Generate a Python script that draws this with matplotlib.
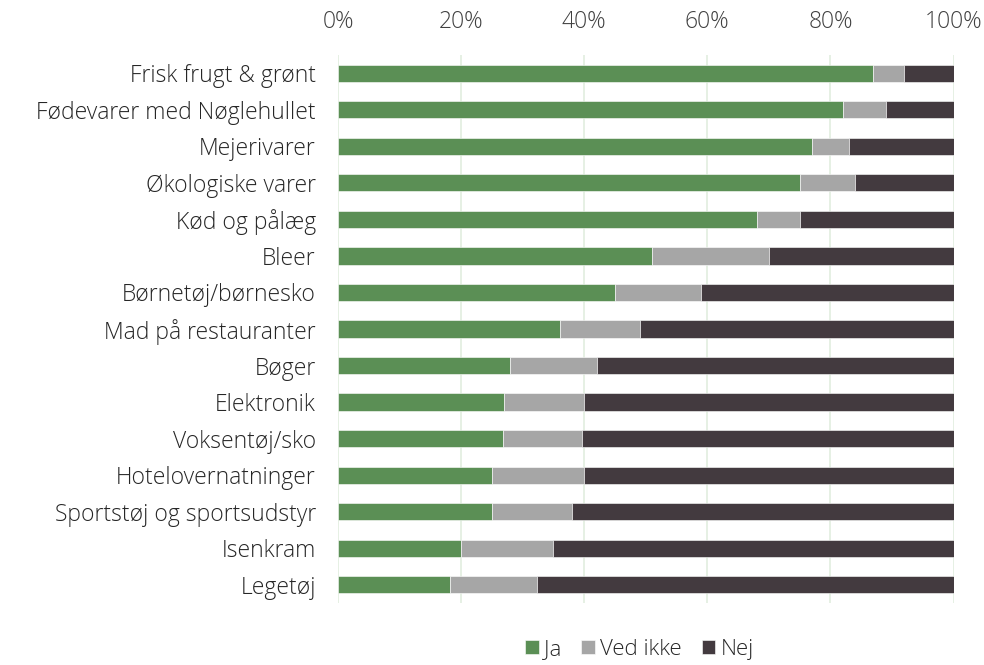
import matplotlib.pyplot as plt
import numpy as np

plt.rcParams['font.family'] = ['Open Sans', 'DejaVu Sans']
plt.rcParams['font.weight'] = 'light'

categories = ['Frisk frugt & grønt', 'Fødevarer med Nøglehullet', 'Mejerivarer',
              'Økologiske varer', 'Kød og pålæg', 'Bleer', 'Børnetøj/børnesko',
              'Mad på restauranter', 'Bøger', 'Elektronik', 'Voksentøj/sko',
              'Hotelovernatninger', 'Sportstøj og sportsudstyr', 'Isenkram', 'Legetøj']
ja = [87, 82, 77, 75, 68, 51, 45, 36, 28, 27, 26.8, 25, 25, 20, 18.2]
ved_ikke = [5, 7, 6, 9, 7, 19, 14, 13, 14, 13, 12.8, 15, 13, 15, 14.2]
nej = [8, 11, 17, 16, 25, 30, 41, 51, 58, 60, 60.4, 60, 62, 65, 67.6]

colors = ['#5B8F55', '#A6A6A6', '#433A3F']
names = ['Ja', 'Ved ikke', 'Nej']

fig = plt.figure(figsize=(9.84, 6.65), dpi=100)
ax = fig.add_axes([338 / 984, 1 - 603 / 665, (953.5 - 338) / 984, 548 / 665])

y = np.arange(len(categories))
left = np.zeros(len(categories))
for vals, c, n in zip([ja, ved_ikke, nej], colors, names):
    vals = np.array(vals)
    ax.barh(y, vals, left=left, height=0.47, color=c, label=n,
            edgecolor='white', linewidth=0.4, zorder=3)
    left += vals

ax.set_xlim(0, 100)
ax.set_ylim(len(categories) - 0.5, -0.5)
ax.set_yticks(y)
ax.set_yticklabels(categories, fontsize=16.5, color='#262626')
ax.set_xticks(np.arange(0, 101, 20))
ax.set_xticklabels([f'{v}%' for v in range(0, 101, 20)], fontsize=16.5, color='#404040')
ax.xaxis.tick_top()
ax.tick_params(axis='both', length=0)
ax.tick_params(axis='x', pad=15)
ax.tick_params(axis='y', pad=16)
ax.grid(axis='x', color='#E2EEDF', linewidth=1.2, zorder=0)
for s in ax.spines.values():
    s.set_visible(False)

ax.legend(loc='center', bbox_to_anchor=(0.49, -0.084), ncol=3, frameon=False,
          fontsize=16, handlelength=0.6, handleheight=0.6, handletextpad=0.25,
          columnspacing=0.9, labelcolor='#262626', borderpad=0.2)

plt.savefig('out.png', dpi=100)
